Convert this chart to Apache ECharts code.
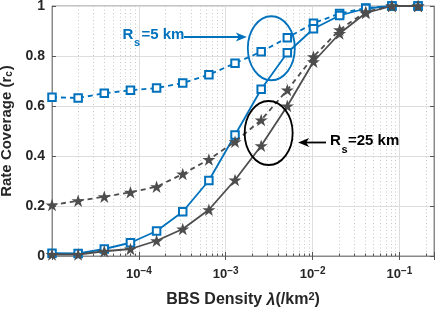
<!DOCTYPE html>
<html>
<head>
<meta charset="utf-8">
<script src="https://cdn.jsdelivr.net/npm/echarts@6/dist/echarts.min.js"></script>
<style>
html,body{margin:0;padding:0;background:#fff;}
#chart{width:436px;height:310px;}
</style>
</head>
<body>
<div id="chart"></div>
<script>
// ---- data ----
const densities = [1e-5, 2e-5, 4e-5, 8e-5, 1.6e-4, 3.2e-4, 6.4e-4, 1.28e-3, 2.56e-3, 5.12e-3, 1.024e-2, 2.048e-2, 4.096e-2, 8.192e-2, 1.6384e-1];
const rs5Dashed  = [0.635, 0.632, 0.651, 0.663, 0.672, 0.692, 0.725, 0.771, 0.817, 0.873, 0.931, 0.970, 0.992, 1.0, 1.0];
const rs5Solid   = [0.011, 0.010, 0.028, 0.053, 0.100, 0.177, 0.302, 0.484, 0.667, 0.813, 0.909, 0.962, 0.990, 1.0, 1.0];
const rs25Dashed = [0.204, 0.221, 0.237, 0.255, 0.277, 0.328, 0.386, 0.457, 0.544, 0.664, 0.797, 0.905, 0.977, 1.0, 1.0];
const rs25Solid  = [0.006, 0.006, 0.019, 0.028, 0.061, 0.108, 0.185, 0.304, 0.441, 0.600, 0.777, 0.890, 0.972, 1.0, 1.0];
const yTicks = [0, 0.2, 0.4, 0.6, 0.8, 1];
const xMin = 1e-5, xMax = 0.25;
// annotation anchors (data coordinates)
const ellipse5Center = [3.35e-3, 0.831];
const ellipse25Center = [3.12e-3, 0.492];

const BLUE = '#0072BD';
const GRAY = '#4d4d4d';
const STAR = 'path://M50,0 L61.8,35.3 L98.9,35.3 L69,57.4 L80.3,92.7 L50,70.9 L19.7,92.7 L31,57.4 L1.1,35.3 L38.2,35.3 Z';
const FONT = 'Liberation Sans, Arial, sans-serif';

function pairs(ys) { return densities.map((x, i) => [x, ys[i]]); }

// minor grid positions (2..9 x decade)
const minorValues = [];
for (let e = -5; e <= -1; e++) {
  for (let m = 2; m <= 9; m++) {
    const v = m * Math.pow(10, e);
    if (v < xMax) minorValues.push(v);
  }
}

const chart = echarts.init(document.getElementById('chart'), null, { renderer: 'canvas' });

const option = {
  animation: false,
  backgroundColor: '#fff',
  grid: { left: 52, right: 2, top: 6, bottom: 54, outerBoundsMode: 'none', containLabel: false, show: true, borderColor: '#8a8a8a', borderWidth: 1, backgroundColor: 'transparent' },
  xAxis: [{
    type: 'log', logBase: 10, min: xMin, max: xMax,
    name: 'BBS Density {l|λ}(/km{sup|2})',
    nameLocation: 'middle', nameGap: 35,
    nameTextStyle: {
      fontFamily: FONT, fontWeight: 'bold', fontSize: 16, color: '#262626',
      rich: {
        l: { fontFamily: FONT, fontWeight: 'bold', fontStyle: 'italic', fontSize: 16, color: '#262626', lineHeight: 18, verticalAlign: 'bottom' },
        sup: { fontFamily: FONT, fontWeight: 'bold', fontSize: 11, color: '#262626', lineHeight: 11, verticalAlign: 'top' }
      }
    },
    axisLine: { show: true, lineStyle: { color: '#8a8a8a', width: 1 } },
    axisTick: { show: true, inside: true, length: 4, lineStyle: { color: '#555' } },
    axisLabel: {
      margin: 10, color: '#262626', fontFamily: FONT, fontWeight: 'bold', fontSize: 13,
      formatter: function (v) {
        const e = Math.log10(v); const r = Math.round(e);
        if (Math.abs(e - r) > 1e-6 || r < -4) return '';
        return '{b|10}{s|' + (r < 0 ? '\u2212' : '') + Math.abs(r) + '}';
      },
      rich: {
        b: { fontFamily: FONT, fontWeight: 'bold', fontSize: 13, color: '#262626', lineHeight: 15, verticalAlign: 'bottom' },
        s: { fontFamily: FONT, fontWeight: 'bold', fontSize: 10, color: '#262626', lineHeight: 10, verticalAlign: 'top' }
      }
    },
    splitLine: { show: true, lineStyle: { color: '#dedede', width: 1 } }
  }, {
    type: 'log', logBase: 10, min: xMin, max: xMax, position: 'top',
    axisLine: { show: true, lineStyle: { color: '#8a8a8a' } },
    axisTick: { show: true, inside: true, length: 4, lineStyle: { color: '#555' } },
    axisLabel: { show: false }, splitLine: { show: false }
  }],
  yAxis: [{
    type: 'value', min: 0, max: 1, interval: 0.2,
    name: 'Rate Coverage (r{sub|c})',
    nameLocation: 'middle', nameGap: 33,
    nameTextStyle: {
      fontFamily: FONT, fontWeight: 'bold', fontSize: 15, lineHeight: 16, color: '#262626',
      rich: {
        sub: { fontFamily: FONT, fontWeight: 'bold', fontSize: 10, color: '#262626', lineHeight: 10, verticalAlign: 'bottom', padding: [0, 1, 0, 0] }
      }
    },
    axisLine: { show: true, lineStyle: { color: '#8a8a8a', width: 1 } },
    axisTick: { show: true, inside: true, length: 4, lineStyle: { color: '#555' } },
    axisLabel: {
      margin: 7, color: '#262626', fontFamily: FONT, fontWeight: 'bold', fontSize: 14,
      formatter: function (v) { return yTicks.indexOf(+v.toFixed(1)) >= 0 ? String(+v.toFixed(1)) : ''; }
    },
    splitLine: { show: true, lineStyle: { color: '#dedede', width: 1 } }
  }, {
    type: 'value', min: 0, max: 1, interval: 0.2, position: 'right',
    axisLine: { show: true, lineStyle: { color: '#8a8a8a' } },
    axisTick: { show: true, inside: true, length: 4, lineStyle: { color: '#555' } },
    axisLabel: { show: false }, splitLine: { show: false }
  }],
  series: [
    {
      type: 'line', name: 'Rs5 dashed', data: pairs(rs5Dashed), z: 3,
      symbol: 'emptyRect', symbolSize: 7.5,
      itemStyle: { color: BLUE, borderWidth: 1.6 },
      lineStyle: { color: BLUE, width: 1.8, type: [5, 4] }
    },
    {
      type: 'line', name: 'Rs5 solid', data: pairs(rs5Solid), z: 3,
      symbol: 'emptyRect', symbolSize: 7.5,
      itemStyle: { color: BLUE, borderWidth: 1.6 },
      lineStyle: { color: BLUE, width: 1.8 }
    },
    {
      type: 'line', name: 'Rs25 dashed', data: pairs(rs25Dashed), z: 4,
      symbol: STAR, symbolSize: 13, symbolKeepAspect: true,
      itemStyle: { color: GRAY },
      lineStyle: { color: GRAY, width: 1.8, type: [5, 4] }
    },
    {
      type: 'line', name: 'Rs25 solid', data: pairs(rs25Solid), z: 4,
      symbol: STAR, symbolSize: 13, symbolKeepAspect: true,
      itemStyle: { color: GRAY },
      lineStyle: { color: GRAY, width: 1.8 }
    }
  ]
};
chart.setOption(option);

// ---- minor grid + annotations ----
function subLabel(x, yMid, main, sub, rest, restX, color) {
  return [
    { type: 'text', z: 10, style: { x: x, y: yMid, text: main, fill: color, font: 'bold 15px ' + FONT, textAlign: 'left', textVerticalAlign: 'middle' } },
    { type: 'text', z: 10, style: { x: x + 11.5, y: yMid + 8.5, text: sub, fill: color, font: 'bold 11px ' + FONT, textAlign: 'left', textVerticalAlign: 'middle' } },
    { type: 'text', z: 10, style: { x: restX, y: yMid, text: rest, fill: color, font: 'bold 15px ' + FONT, textAlign: 'left', textVerticalAlign: 'middle' } }
  ];
}
function arrow(x1, x2, y, color) {
  const dir = x2 > x1 ? 1 : -1;
  const L = 11, W = 4.5;
  return [
    { type: 'line', z: 10, shape: { x1: x1, y1: y, x2: x2 - dir * 7, y2: y }, style: { stroke: color, lineWidth: 1.8 } },
    { type: 'polygon', z: 10, shape: { points: [[x2, y], [x2 - dir * L, y - W], [x2 - dir * 8, y], [x2 - dir * L, y + W]] }, style: { fill: color } }
  ];
}
const yTop = chart.convertToPixel({ yAxisIndex: 0 }, 1);
const yBot = chart.convertToPixel({ yAxisIndex: 0 }, 0);
const minorGrid = minorValues.map(function (v) {
  const px = Math.round(chart.convertToPixel({ xAxisIndex: 0 }, v)) + 0.5;
  return { type: 'line', z: 0, silent: true, shape: { x1: px, y1: yTop, x2: px, y2: yBot }, style: { stroke: '#c8c8c8', lineWidth: 1, lineDash: [1, 2.5] } };
});
const minorTicks = minorValues.map(function (v) {
  const px = Math.round(chart.convertToPixel({ xAxisIndex: 0 }, v)) + 0.5;
  return { type: 'line', z: 0, silent: true, shape: { x1: px, y1: yBot, x2: px, y2: yBot - 2.5 }, style: { stroke: '#555', lineWidth: 1 } };
});
const c5 = chart.convertToPixel({ xAxisIndex: 0, yAxisIndex: 0 }, ellipse5Center);
const c25 = chart.convertToPixel({ xAxisIndex: 0, yAxisIndex: 0 }, ellipse25Center);

const graphics = [].concat(
  minorGrid, minorTicks,
  [{ type: 'ellipse', z: 10, shape: { cx: c5[0], cy: c5[1], rx: 23.5, ry: 32 }, style: { stroke: BLUE, lineWidth: 1.8, fill: null } }],
  [{ type: 'ellipse', z: 10, shape: { cx: c25[0], cy: c25[1], rx: 24, ry: 32 }, style: { stroke: '#000', lineWidth: 1.8, fill: null } }],
  subLabel(122.5, 34.5, 'R', 's', '=5 km', 141.5, BLUE),
  arrow(184, c5[0] - 24.5, 37, BLUE),
  subLabel(330, 141, 'R', 's', '=25 km', 348, '#000'),
  arrow(326, c25[0] + 29.5, 142.5, '#000')
);
chart.setOption({ graphic: graphics });
</script>
</body>
</html>
